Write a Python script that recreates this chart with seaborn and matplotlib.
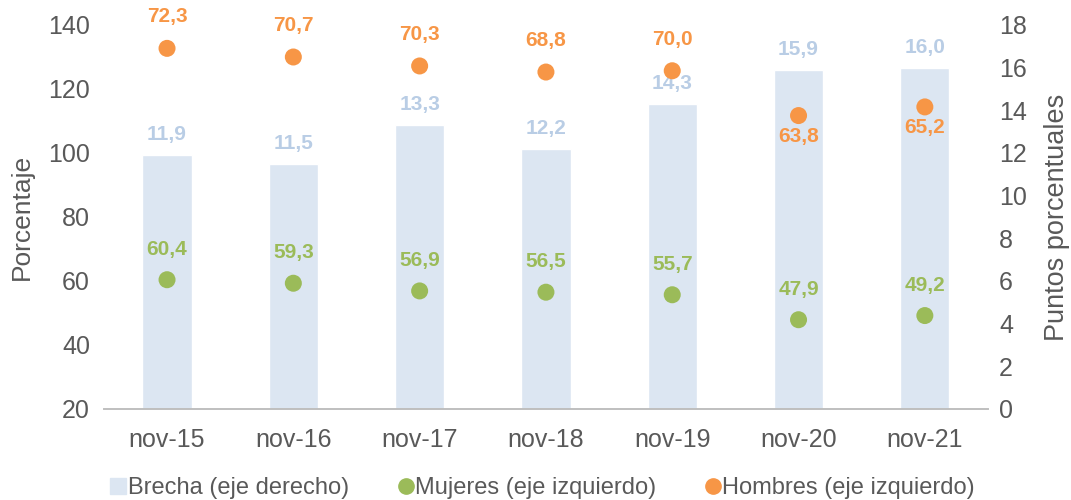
import seaborn as sns
import matplotlib.pyplot as plt
import pandas as pd
from matplotlib.lines import Line2D

periodos = ["nov-15", "nov-16", "nov-17", "nov-18", "nov-19", "nov-20", "nov-21"]
mujeres = [60.4, 59.3, 56.9, 56.5, 55.7, 47.9, 49.2]
hombres = [72.3, 70.7, 70.3, 68.8, 70.0, 63.8, 65.2]
brecha = [11.9, 11.5, 13.3, 12.2, 14.3, 15.9, 16.0]

c_bar = "#DCE6F2"
c_bar_txt = "#B9CDE5"
c_muj = "#9BBB59"
c_hom = "#F79646"
c_txt = "#595959"

df = pd.DataFrame({"periodo": periodos, "mujeres": mujeres,
                   "hombres": hombres, "brecha": brecha})
# the source chart stacks the series: men are drawn on top of women
df["hombres_apilado"] = df["mujeres"] + df["hombres"]

sns.set_theme(style="white")
plt.rcParams["font.family"] = ["Liberation Sans", "DejaVu Sans"]

fig = plt.figure(figsize=(10.71, 5.0), dpi=100)
ax = fig.add_axes([0.097, 0.182, 0.8255, 0.768])
ax2 = ax.twinx()

# bars on the right-hand scale (drawn first, behind the dots)
sns.barplot(data=df, x="periodo", y="brecha", color=c_bar, width=0.39,
            saturation=1, ax=ax)
ax.set_ylim(0, 18)
ax.set_yticks(range(0, 19, 2))
ax.set_ylabel("Puntos porcentuales", fontsize=19.5, color=c_txt, labelpad=12)
ax.set_xlabel("")
for i, v in enumerate(brecha):
    ax.annotate(f"{v:.1f}".replace(".", ","), (i, v), xytext=(0, 8),
                textcoords="offset points", ha="center", va="bottom",
                fontsize=15, fontweight="bold", color=c_bar_txt)

# dots on the left-hand scale
sns.scatterplot(data=df, x="periodo", y="mujeres", color=c_muj, s=150,
                edgecolor="none", ax=ax2, zorder=3)
sns.scatterplot(data=df, x="periodo", y="hombres_apilado", color=c_hom, s=150,
                edgecolor="none", ax=ax2, zorder=3)
ax2.set_ylim(20, 140)
ax2.set_yticks(range(20, 141, 20))
ax2.set_ylabel("Porcentaje", fontsize=19, color=c_txt, labelpad=10)
ax2.set_xlabel("")
for i, (m, h, hs) in enumerate(zip(mujeres, hombres, df["hombres_apilado"])):
    ax2.annotate(f"{m:.1f}".replace(".", ","), (i, m), xytext=(0, 15),
                 textcoords="offset points", ha="center", va="bottom",
                 fontsize=15, fontweight="bold", color=c_muj)
    below = i >= 5
    ax2.annotate(f"{h:.1f}".replace(".", ","), (i, hs),
                 xytext=(0, -8 if below else 16), textcoords="offset points",
                 ha="center", va="top" if below else "bottom",
                 fontsize=15, fontweight="bold", color=c_hom)

# swap sides: bar scale on the right, dot scale on the left
ax.yaxis.tick_right()
ax.yaxis.set_label_position("right")
ax2.yaxis.tick_left()
ax2.yaxis.set_label_position("left")

ax.set_xlim(-0.5, len(periodos) - 0.5)
ax.set_xticks(range(len(periodos)))
ax.set_xticklabels(periodos)
ax.set_xticks([i - 0.5 for i in range(len(periodos) + 1)], minor=True)
ax.tick_params(axis="x", which="major", length=0, pad=14, labelsize=18,
               labelcolor=c_txt)
ax.tick_params(axis="x", which="minor", length=7, width=1, color="#BFBFBF",
               direction="out")
ax.tick_params(axis="y", length=0, labelsize=18, labelcolor=c_txt, pad=8,
               left=False, labelleft=False, right=False, labelright=True)
ax2.tick_params(axis="y", length=0, labelsize=18, labelcolor=c_txt, pad=10,
                left=False, labelleft=True, right=False, labelright=False)
ax2.tick_params(axis="x", length=0, labelbottom=False)

for a in (ax, ax2):
    for s in ("top", "left", "right"):
        a.spines[s].set_visible(False)
    a.spines["bottom"].set_color("#BFBFBF")
    a.grid(False)

handles = [
    Line2D([], [], marker="s", linestyle="none", color=c_bar, markersize=12),
    Line2D([], [], marker="o", linestyle="none", color=c_muj, markersize=11),
    Line2D([], [], marker="o", linestyle="none", color=c_hom, markersize=11),
]
labels = ["Brecha (eje derecho)", "Mujeres (eje izquierdo)",
          "Hombres (eje izquierdo)"]
leg = fig.legend(handles, labels, loc="center", bbox_to_anchor=(0.505, 0.024),
                 ncol=3, frameon=False, fontsize=17, handletextpad=-0.1,
                 columnspacing=1.9, handlelength=1.0)
for t in leg.get_texts():
    t.set_color(c_txt)

fig.savefig("out.png", dpi=100)
